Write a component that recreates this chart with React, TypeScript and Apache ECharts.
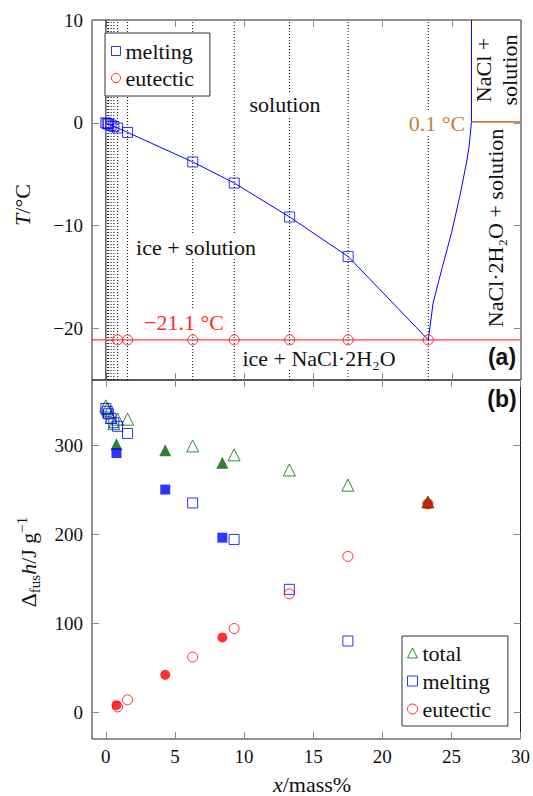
import React, { useEffect, useRef } from "react";
import * as echarts from "echarts";

const SERIF = "'Liberation Serif', 'DejaVu Serif', serif";
const SANS = "'Liberation Sans', 'DejaVu Sans', sans-serif";

// ---------- axes ----------
const xMin = -1;
const xMax = 30;
const tMin = -25;
const tMax = 10;
const hMin = -30;
const hMax = 373;
const xTicks = [0, 5, 10, 15, 20, 25, 30];
const tTicks = [-20, -10, 0, 10];
const hTicks = [0, 100, 200, 300];

// ---------- panel (a) ----------
const sampleX = [0.1, 0.2, 0.38, 0.58, 0.85, 1.57, 6.28, 9.28, 13.28, 17.51, 23.3];
const meltingX = [0, 0.1, 0.2, 0.38, 0.58, 0.85, 1.57, 6.28, 9.28, 13.28, 17.51];
const meltingT = [0, -0.06, -0.12, -0.22, -0.35, -0.5, -0.93, -3.8, -5.85, -9.15, -13.0];
const eutecticX = [0.85, 1.57, 6.28, 9.28, 13.28, 17.51, 23.3];
const eutecticT = -21.1;
const saltX = [23.3, 23.65, 24.3, 24.98, 25.6, 26.1, 26.25, 26.42, 26.42];
const saltT = [-21.1, -17.5, -14.1, -10.7, -7.0, -3.6, -2.3, 0.1, 10];
const transitionT = 0.1;
const transitionX = [26.42, 30];

// ---------- panel (b) ----------
const openTotalX = [0, 0.1, 0.2, 0.38, 0.58, 0.85, 1.57, 6.28, 9.28, 13.28, 17.51, 23.3];
const openTotal = [344, 341, 337, 331, 324, 329, 329, 299, 289, 272, 255, 236];
const openMeltingX = [0, 0.1, 0.2, 0.38, 0.58, 0.85, 1.57, 6.28, 9.28, 13.28, 17.51];
const openMelting = [341, 338, 335, 330, 325, 321, 313, 235, 194, 138, 80];
const openEutecticX = [0.85, 1.57, 6.28, 9.28, 13.28, 17.51, 23.3];
const openEutectic = [6, 14, 62, 94, 133, 175, 234];
const filledX = [0.77, 4.3, 8.43, 23.3];
const filledTotal = [301, 294, 280, 236];
const filledMeltingX = [0.77, 4.3, 8.43];
const filledMelting = [291, 250, 196];
const filledEutectic = [8, 42, 84, 234];

const BLUE = "#0000ff";
const RED = "#ff0000";
const GREEN = "#007000";
const GREEN_FILL = "#006000";
const BROWN = "#bf8040";
const CLEAR = "rgba(255,255,255,0)";

const zip = (xs: number[], ys: number[]) => xs.map((x, i) => [x, ys[i]]);
const fmt = (v: number) => (v < 0 ? "\u2212" + Math.abs(v) : String(v));

const tick = (vals: number[]) => ({
  show: true,
  inside: true,
  length: 7,
  customValues: vals,
  lineStyle: { color: "#8a8a8a", width: 1 },
});
const noLine = { show: false, onZero: false };
const label = (vals: number[], margin: number) => ({
  show: true,
  customValues: vals,
  formatter: fmt,
  fontFamily: SERIF,
  fontSize: 19,
  color: "#111",
  margin,
});

function buildOption(): any {
  const xAxis = [
    { gridIndex: 0, position: "bottom", axisTick: tick(xTicks), axisLabel: { show: false } },
    { gridIndex: 0, position: "top", axisTick: tick(xTicks), axisLabel: { show: false } },
    { gridIndex: 1, position: "bottom", axisTick: tick(xTicks), axisLabel: label(xTicks, 8) },
    { gridIndex: 1, position: "top", axisTick: tick(xTicks), axisLabel: { show: false } },
  ].map((a) => ({ type: "value", min: xMin, max: xMax, axisLine: noLine, splitLine: { show: false }, ...a }));

  const yAxis = [
    { gridIndex: 0, position: "left", min: tMin, max: tMax, axisTick: tick(tTicks), axisLabel: label(tTicks, 9) },
    { gridIndex: 0, position: "right", min: tMin, max: tMax, axisTick: tick(tTicks), axisLabel: { show: false } },
    { gridIndex: 1, position: "left", min: hMin, max: hMax, axisTick: tick(hTicks), axisLabel: label(hTicks, 9) },
    { gridIndex: 1, position: "right", min: hMin, max: hMax, axisTick: tick(hTicks), axisLabel: { show: false } },
  ].map((a) => ({ type: "value", axisLine: noLine, splitLine: { show: false }, ...a }));

  const top = { xAxisIndex: 0, yAxisIndex: 0 };
  const bot = { xAxisIndex: 2, yAxisIndex: 2 };
  const plainLine = (data: number[][], color: string, width: number, extra: any = {}) => ({
    type: "line",
    ...top,
    data,
    showSymbol: false,
    symbol: "none",
    silent: true,
    lineStyle: { color, width },
    z: 2,
    ...extra,
  });

  const guides = sampleX.map((x) =>
    plainLine(
      [
        [x, tMin],
        [x, tMax],
      ],
      "#000",
      1,
      { lineStyle: { color: "#000", width: 1, type: [1, 2] }, z: 1 }
    )
  );

  const openSym = (color: string) => ({ color: CLEAR, borderColor: color, borderWidth: 1 });

  const series: any[] = [
    ...guides,
    plainLine(
      [
        [0, tMin],
        [0, tMax],
      ],
      "#222",
      1,
      { z: 1 }
    ),
    plainLine(
      [
        [xMin, eutecticT],
        [xMax, eutecticT],
      ],
      "#ff4040",
      1.4
    ),
    plainLine(zip([...meltingX, 23.3], [...meltingT, eutecticT]), BLUE, 1),
    plainLine(zip(saltX, saltT), BLUE, 1),
    plainLine(zip(transitionX, [transitionT, transitionT]), BROWN, 1.6),
    {
      type: "scatter",
      name: "melting",
      ...top,
      symbol: "rect",
      symbolSize: 10,
      itemStyle: openSym(BLUE),
      data: zip(meltingX, meltingT),
      z: 4,
    },
    {
      type: "scatter",
      name: "eutectic",
      ...top,
      symbol: "circle",
      symbolSize: 10,
      itemStyle: openSym(RED),
      data: eutecticX.map((x) => [x, eutecticT]),
      z: 4,
    },
    // panel (b) filled
    {
      type: "scatter",
      name: "total (filled)",
      ...bot,
      symbol: "triangle",
      symbolSize: 12,
      itemStyle: { color: GREEN_FILL },
      data: zip(filledX, filledTotal),
      z: 3,
    },
    {
      type: "scatter",
      name: "melting (filled)",
      ...bot,
      symbol: "rect",
      symbolSize: 10,
      itemStyle: { color: BLUE },
      data: zip(filledMeltingX, filledMelting),
      z: 3,
    },
    {
      type: "scatter",
      name: "eutectic (filled)",
      ...bot,
      symbol: "circle",
      symbolSize: 10,
      itemStyle: { color: RED },
      data: zip(filledX, filledEutectic),
      z: 3,
    },
    // panel (b) open
    {
      type: "scatter",
      name: "total",
      ...bot,
      symbol: "triangle",
      symbolSize: 12,
      itemStyle: openSym(GREEN),
      data: zip(openTotalX, openTotal),
      z: 4,
    },
    {
      type: "scatter",
      name: "melting",
      ...bot,
      symbol: "rect",
      symbolSize: 10,
      itemStyle: openSym(BLUE),
      data: zip(openMeltingX, openMelting),
      z: 4,
    },
    {
      type: "scatter",
      name: "eutectic",
      ...bot,
      symbol: "circle",
      symbolSize: 10,
      itemStyle: openSym(RED),
      data: zip(openEutecticX, openEutectic),
      z: 4,
    },
  ];

  const legendBase = {
    orient: "vertical",
    selectedMode: false,
    backgroundColor: "#fff",
    borderColor: "#333",
    borderWidth: 1,
    borderRadius: 0,
    itemWidth: 9,
    itemHeight: 9,
    textStyle: { fontFamily: SERIF, fontSize: 22, lineHeight: 22, color: "#111" },
  };
  const legItem = (name: string, icon: string, color: string) => ({
    name,
    icon,
    itemStyle: { color: CLEAR, borderColor: color, borderWidth: 1 },
  });

  const legend = [
    {
      ...legendBase,
      left: 105,
      top: 33,
      padding: [7, 16, 7, 6],
      itemGap: 5,
      data: [legItem("melting", "rect", BLUE), legItem("eutectic", "circle", RED)],
    },
    {
      ...legendBase,
      left: 402,
      top: 636,
      padding: [6, 17, 6, 5],
      itemGap: 6,
      itemWidth: 10,
      itemHeight: 10,
      data: [legItem("total", "triangle", GREEN), legItem("melting", "rect", BLUE), legItem("eutectic", "circle", RED)],
    },
  ];

  const txt = (text: string, x: number, y: number, style: any = {}, extra: any = {}) => ({
    type: "text",
    x,
    y,
    z: 10,
    silent: true,
    ...extra,
    style: {
      text,
      fill: "#111",
      fontFamily: SERIF,
      fontSize: 22,
      align: "center",
      verticalAlign: "middle",
      ...style,
    },
  });
  const bg = { backgroundColor: "#fff", padding: [1, 2] };
  const rot = { rotation: Math.PI / 2 };
  const rich = {
    i: { fontFamily: SERIF, fontSize: 22, fontStyle: "italic", lineHeight: 28 },
    n: { fontFamily: SERIF, fontSize: 22, lineHeight: 28 },
    sub: { fontFamily: SERIF, fontSize: 15, lineHeight: 15, verticalAlign: "bottom" },
    sup: { fontFamily: SERIF, fontSize: 15, lineHeight: 15, verticalAlign: "top" },
  };

  const graphic = [
    txt("solution", 285, 104, bg),
    txt("ice + solution", 196, 247, bg),
    txt("ice + NaCl·2H₂O", 319, 358, bg),
    txt("\u221221.1 °C", 184, 322, { ...bg, fill: "#ff2a2a" }),
    txt("0.1 °C", 437, 123, { ...bg, fill: BROWN }),
    txt("NaCl +\nsolution", 496, 70, { lineHeight: 26 }, rot),
    txt("NaCl·2H₂O + solution", 495, 228, {}, rot),
    txt("(a)", 502, 357, { fontFamily: SANS, fontWeight: "bold", fontSize: 23 }),
    txt("(b)", 502, 399, { fontFamily: SANS, fontWeight: "bold", fontSize: 23 }),
    txt("{i|T}{n|/°C}", 22, 205, { rich }, rot),
    txt("{n|Δ}{sub|fus}{i|h}{n|/J g}{sup|\u22121}", 28, 562, { rich }, rot),
    txt("{i|x}{n|/mass%}", 312, 784, { rich }),
  ];

  return {
    animation: false,
    backgroundColor: "#fff",
    grid: [
      { left: 92, top: 20, width: 429, height: 360, show: true, borderColor: "#222", borderWidth: 1, containLabel: false },
      { left: 92, top: 380, width: 429, height: 359, show: true, borderColor: "#222", borderWidth: 1, containLabel: false },
    ],
    xAxis,
    yAxis,
    legend,
    series,
    graphic,
  };
}

export default function App() {
  const ref = useRef<HTMLDivElement>(null);
  useEffect(() => {
    if (!ref.current) return;
    const chart = echarts.init(ref.current, null, { renderer: "svg" });
    chart.setOption(buildOption());
    return () => chart.dispose();
  }, []);
  return (
    <div
      ref={ref}
      style={{ position: "absolute", left: 0, top: 0, width: 533, height: 796, background: "#fff" }}
    />
  );
}
